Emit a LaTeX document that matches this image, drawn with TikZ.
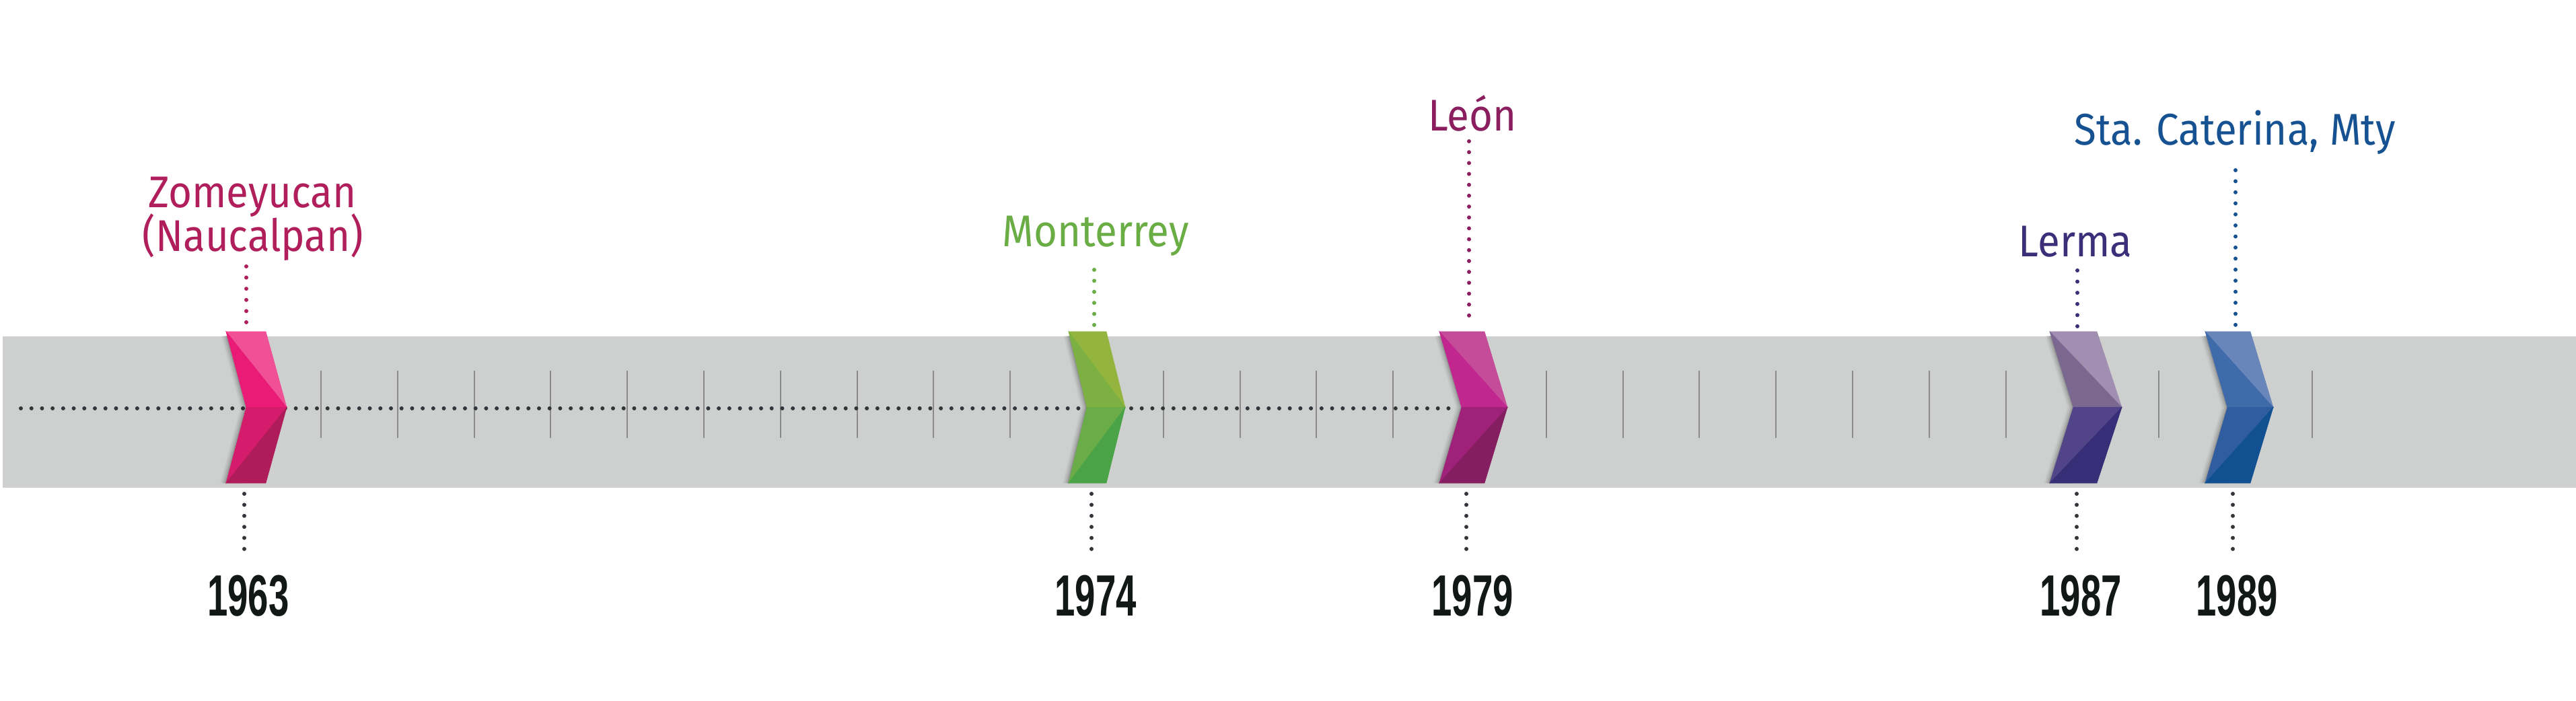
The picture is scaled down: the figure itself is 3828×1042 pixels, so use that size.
\documentclass[tikz,border=0pt]{standalone}
\usepackage{fontspec}
\usepackage{graphicx}
\setmainfont{Fira Sans}
\newfontfamily\yearfont{Liberation Sans}
\definecolor{bandc}{RGB}{206,207,207}
\definecolor{tickc}{RGB}{138,138,138}
\definecolor{dotc}{RGB}{52,53,58}
\definecolor{yearc}{RGB}{17,24,22}
% 1963
\definecolor{aA}{RGB}{239,80,150}\definecolor{aB}{RGB}{233,27,118}\definecolor{aC}{RGB}{213,27,107}\definecolor{aD}{RGB}{174,29,90}\definecolor{aT}{RGB}{176,31,91}
% 1974
\definecolor{bA}{RGB}{147,181,64}\definecolor{bB}{RGB}{125,176,67}\definecolor{bC}{RGB}{105,172,72}\definecolor{bD}{RGB}{75,163,72}\definecolor{bT}{RGB}{106,173,69}
% 1979
\definecolor{cA}{RGB}{196,76,153}\definecolor{cB}{RGB}{194,38,143}\definecolor{cC}{RGB}{159,33,122}\definecolor{cD}{RGB}{133,30,96}\definecolor{cT}{RGB}{138,30,95}
% 1987
\definecolor{dA}{RGB}{160,143,176}\definecolor{dB}{RGB}{123,104,145}\definecolor{dC}{RGB}{82,68,136}\definecolor{dD}{RGB}{56,46,119}\definecolor{dT}{RGB}{60,46,120}
% 1989
\definecolor{eA}{RGB}{104,134,186}\definecolor{eB}{RGB}{64,107,170}\definecolor{eC}{RGB}{48,93,160}\definecolor{eD}{RGB}{18,81,145}\definecolor{eT}{RGB}{22,82,146}
\newcommand{\mychev}[9]{%
  \coordinate (#1-top) at ({(#2+#3)/2},493);
  \coordinate (#1-bot) at ({(#2+#3)/2},718);
  \begin{scope}
    \clip (4,500) rectangle (3828,725);
    \foreach \s/\o in {9/0.03,7/0.05,5/0.06,3/0.08,1.5/0.10}{%
      \fill[black,opacity=\o] ({#2-\s},493) -- ({#5-\s},605.5) -- ({#2-\s},718) -- (#5,718) -- (#5,493) -- cycle;}
  \end{scope}
  \filldraw[#6,line width=0.3pt] (#2,493) -- (#3,493) -- (#4,605.5) -- cycle;
  \filldraw[#7,line width=0.3pt] (#2,493) -- (#4,605.5) -- (#5,605.5) -- cycle;
  \filldraw[#8,line width=0.3pt] (#5,605.5) -- (#4,605.5) -- (#2,718) -- cycle;
  \filldraw[#9,line width=0.3pt] (#2,718) -- (#4,605.5) -- (#3,718) -- cycle;
}
\newcommand{\lbl}[1]{\scalebox{0.91}[1]{#1}}
\newcommand{\yr}[1]{\scalebox{0.63}[1]{#1}}
\tikzset{
  lab/.style={inner sep=0pt, anchor=base, font=\fontsize{33}{40}\selectfont},
  yearlab/.style={inner sep=0pt, anchor=base, text=yearc, font=\yearfont\bfseries\fontsize{43.3}{50}\selectfont},
  dotl/.style={line width=3pt, line cap=round, dash pattern=on 0pt off #1},
  tickline/.style={draw=tickc, line width=1pt}
}
\begin{document}
\begin{tikzpicture}[x=0.5pt,y=-0.5pt]
\useasboundingbox (0,0) rectangle (3828,1042);
\fill[white] (0,0) rectangle (3828,1042);
\fill[bandc] (4,500) rectangle (3828,725);
% ticks
\foreach \k in {0,...,26}{\draw[tickline] ({477+113.8*\k},551) -- ({477+113.8*\k},651);}
% main dotted line
\coordinate (ms) at (31,607);
\coordinate (me) at (2168,607);
\draw[dotl=7.857pt, dotc] (ms) -- (me);
% chevrons
\mychev{c1}{336}{395}{426}{366}{aA}{aB}{aC}{aD}
\mychev{c2}{1588}{1644}{1672}{1615}{bA}{bB}{bC}{bD}
\mychev{c3}{2139}{2206}{2240}{2172}{cA}{cB}{cC}{cD}
\mychev{c4}{3046}{3116}{3153}{3081}{dA}{dB}{dC}{dD}
\mychev{c5}{3277}{3344}{3378}{3310}{eA}{eB}{eC}{eD}
% labels
\node[lab, text=aT] (l1a) at (375,309) {\lbl{Zomeyucan}};
\node[lab, text=aT] (l1b) at (376,374) {\lbl{(Naucalpan)}};
\node[lab, text=bT] (l2) at (1628,367) {\lbl{Monterrey}};
\node[lab, text=cT] (l3) at (2188,195) {\lbl{León}};
\node[lab, text=dT] (l4) at (3084,382) {\lbl{Lerma}};
\node[lab, text=eT] (l5) at (3321,216) {\lbl{Sta. Caterina, Mty}};
% upper connectors
\coordinate (u1s) at (366,396); \coordinate (u1e) at (366,479);
\coordinate (u2s) at (1626,401); \coordinate (u2e) at (1626,483);
\coordinate (u3s) at (2183,210); \coordinate (u3e) at (2183,485);
\coordinate (u4s) at (3087,402); \coordinate (u4e) at (3087,485);
\coordinate (u5s) at (3322,253); \coordinate (u5e) at (3322,483);
\draw[dotl=8.3pt, aT] (u1s) -- (u1e);
\draw[dotl=8.2pt, bT] (u2s) -- (u2e);
\draw[dotl=8.09pt, cT] (u3s) -- (u3e);
\draw[dotl=8.3pt, dT] (u4s) -- (u4e);
\draw[dotl=8.21pt, eT] (u5s) -- (u5e);
% lower connectors
\foreach \n/\x in {1/363,2/1622,3/2179,4/3086,5/3318}{%
  \coordinate (b\n s) at (\x,734); \coordinate (b\n e) at (\x,816);
  \draw[dotl=8.2pt, dotc] (b\n s) -- (b\n e);}
% years
\node[yearlab] (y1) at (369,915) {\yr{1963}};
\node[yearlab] (y2) at (1628,915) {\yr{1974}};
\node[yearlab] (y3) at (2188,915) {\yr{1979}};
\node[yearlab] (y4) at (3092,915) {\yr{1987}};
\node[yearlab] (y5) at (3324,915) {\yr{1989}};
\end{tikzpicture}
\end{document}
